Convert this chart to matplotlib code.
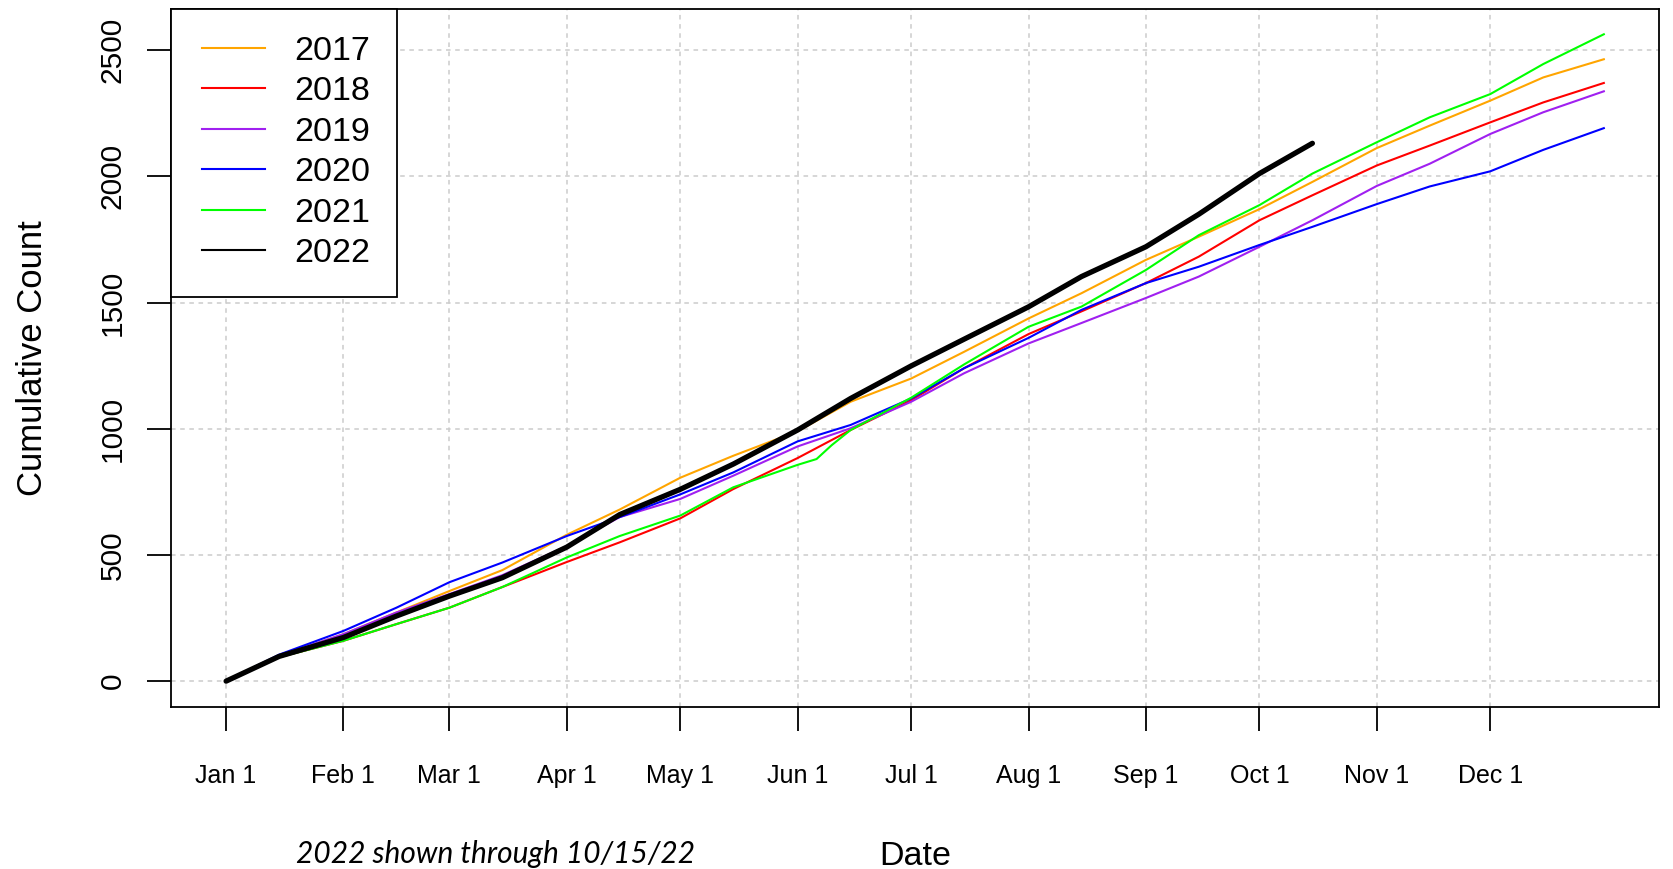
import matplotlib
matplotlib.use("Agg")
import matplotlib.pyplot as plt
from matplotlib.lines import Line2D
from matplotlib.legend_handler import HandlerLine2D

plt.rcParams['font.family'] = ['Liberation Sans', 'DejaVu Sans']

days = [0, 14, 31, 45, 59, 73, 90, 104, 120, 134, 151, 165, 181, 195,
        212, 226, 243, 257, 273, 287, 304, 318, 334, 348, 364]

y2017 = [0, 100, 186, 272, 357, 440, 580, 680, 806, 893, 990, 1107, 1199, 1305,
         1437, 1537, 1669, 1761, 1870, 1978, 2112, 2201, 2300, 2392, 2464]
y2018 = [0, 95, 160, 226, 291, 373, 472, 550, 645, 761, 884, 995, 1113, 1240,
         1375, 1465, 1577, 1682, 1826, 1925, 2043, 2122, 2214, 2293, 2370]
y2019 = [0, 100, 186, 272, 345, 420, 535, 650, 722, 814, 930, 1002, 1107, 1220,
         1338, 1419, 1518, 1603, 1721, 1826, 1962, 2050, 2168, 2254, 2337]
y2020 = [0, 105, 199, 291, 392, 470, 575, 650, 740, 827, 950, 1015, 1120, 1240,
         1360, 1471, 1577, 1642, 1728, 1800, 1890, 1960, 2020, 2105, 2191]

days21 = [0, 14, 31, 45, 59, 73, 90, 104, 120, 134, 151, 156, 160, 165, 181, 195,
          212, 226, 243, 257, 273, 287, 304, 318, 334, 348, 364]
y2021 = [0, 95, 160, 226, 291, 373, 490, 575, 656, 768, 857, 880, 935, 995, 1123, 1255,
         1404, 1484, 1629, 1767, 1886, 2011, 2135, 2234, 2326, 2445, 2563]

days22 = [0, 14, 31, 45, 59, 73, 90, 104, 120, 134, 151, 165, 181, 195,
          212, 226, 243, 257, 273, 287]
y2022 = [0, 98, 173, 258, 337, 410, 531, 660, 760, 860, 995, 1120, 1249, 1355,
         1483, 1603, 1721, 1850, 2011, 2131]

years = ['2017', '2018', '2019', '2020', '2021', '2022']
colors = ['#FFA500', '#FF0000', '#A020F0', '#0000FF', '#00FF00', 'black']

month_days = [0, 31, 59, 90, 120, 151, 181, 212, 243, 273, 304, 334]
month_labels = ['Jan 1', 'Feb 1', 'Mar 1', 'Apr 1', 'May 1', 'Jun 1',
                'Jul 1', 'Aug 1', 'Sep 1', 'Oct 1', 'Nov 1', 'Dec 1']
yticks = [0, 500, 1000, 1500, 2000, 2500]

fig = plt.figure(figsize=(16.73, 8.69), dpi=100)
ax = fig.add_axes([0.1022, 0.1864, 0.8894, 0.8038])

# grid like R abline(lty="dotted", col="lightgray")
for d in month_days:
    ax.axvline(d, color='#cccccc', lw=1.1, linestyle=(0, (3, 3)), zorder=0)
for v in yticks:
    ax.axhline(v, color='#cccccc', lw=1.1, linestyle=(0, (3, 3)), zorder=0)

ax.plot(days, y2017, color=colors[0], lw=1.5)
ax.plot(days, y2018, color=colors[1], lw=1.5)
ax.plot(days, y2019, color=colors[2], lw=1.5)
ax.plot(days, y2020, color=colors[3], lw=1.5)
ax.plot(days21, y2021, color=colors[4], lw=1.5)
ax.plot(days22, y2022, color='black', lw=3.8, solid_capstyle='round')

ax.set_xlim(-14.56, 378.56)
ax.set_ylim(-102.5, 2665)

ax.set_xticks(month_days)
ax.set_xticklabels(month_labels)
ax.set_yticks(yticks)
ax.set_yticklabels([str(v) for v in yticks], rotation=90, va='center')
ax.tick_params(axis='x', length=17, width=1.3, pad=24, labelsize=18)
ax.tick_params(axis='y', length=17, width=1.3, pad=15, labelsize=21.5)
for s in ax.spines.values():
    s.set_linewidth(1.3)

ax.set_xlabel('Date', fontsize=24.5, labelpad=38)
ax.set_ylabel('Cumulative Count', fontsize=25, labelpad=36)

handles = [Line2D([], [], color=c, lw=1.5) for c in colors]
leg = ax.legend(handles, years, loc='upper left', bbox_to_anchor=(0, 1),
                borderaxespad=0, fontsize=24.5, fancybox=False, edgecolor='black',
                handlelength=1.95, handletextpad=0.87, labelspacing=0.28,
                borderpad=0.8, framealpha=1,
                handler_map={Line2D: HandlerLine2D(xpad=0.1)})
leg.get_frame().set_linewidth(1.3)

fig.text(0.296, 0.007, '2022 shown through 10/15/22', fontsize=21.5,
         style='italic', family=['Lato', 'DejaVu Sans'], ha='center',
         va='baseline')

fig.savefig('out.png', dpi=100)
